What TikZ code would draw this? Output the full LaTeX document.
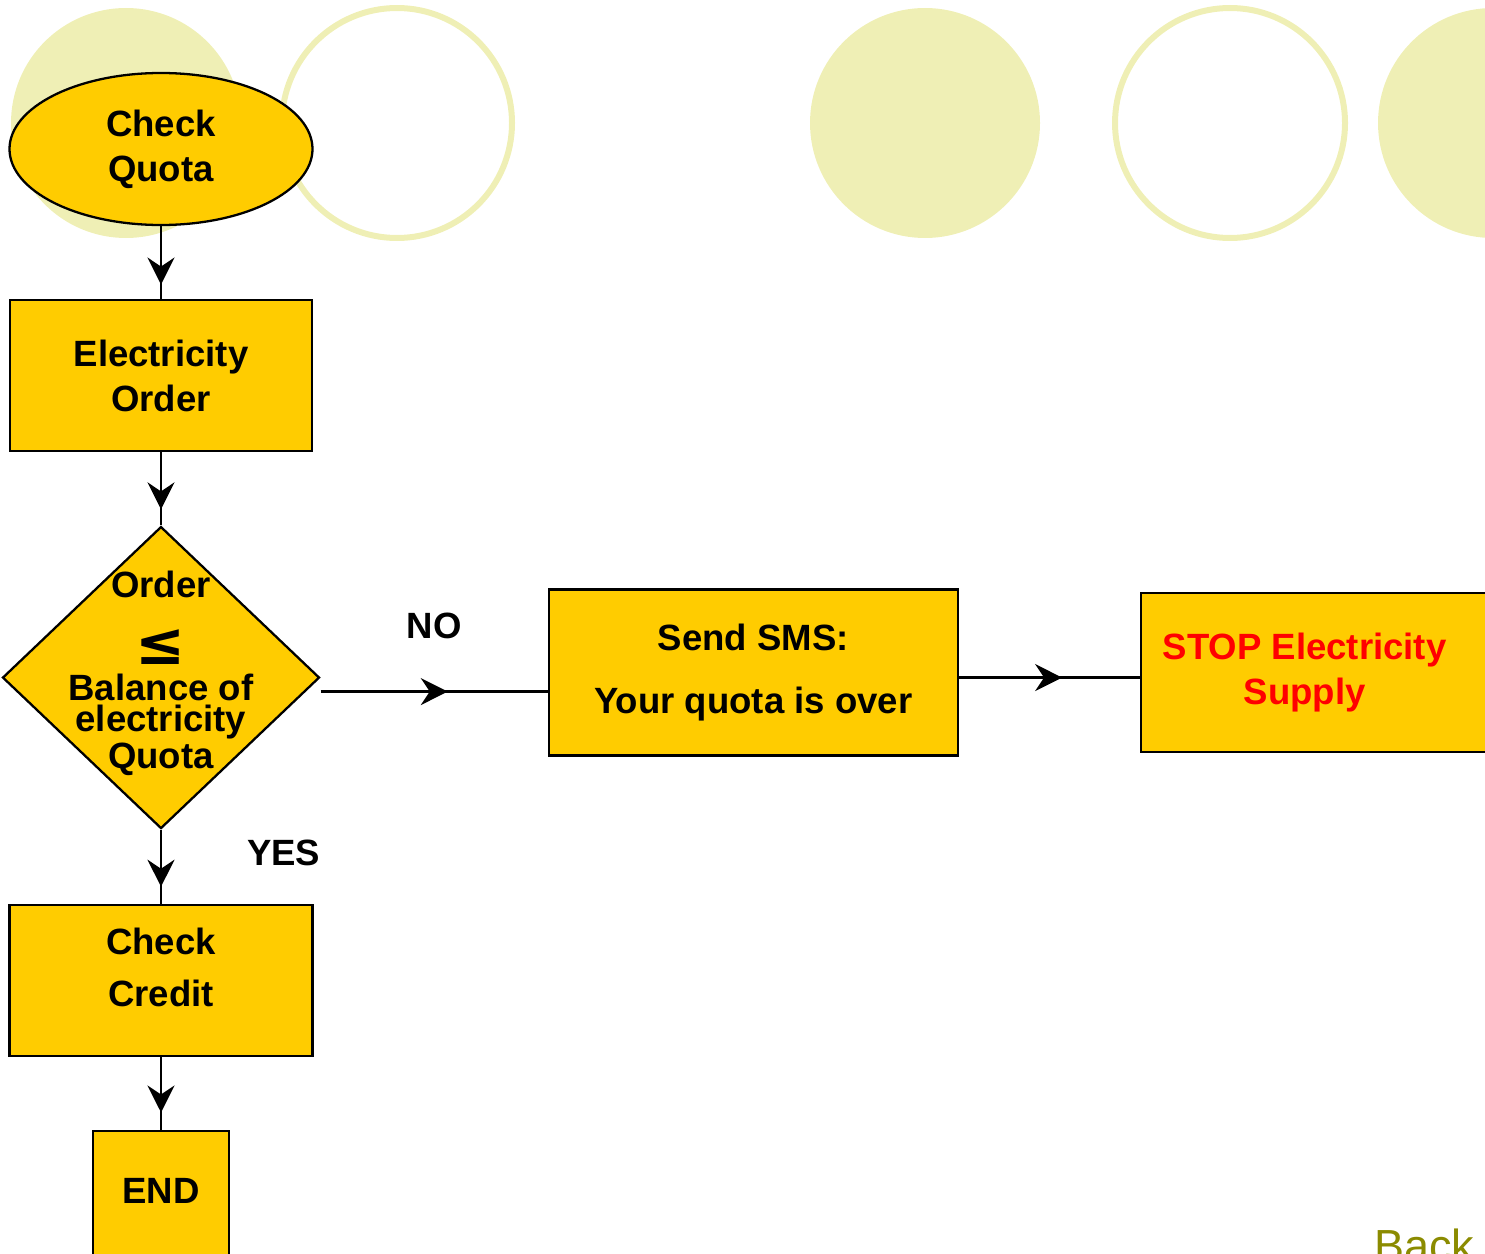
\documentclass[tikz,border=0pt]{standalone}
\usepackage{fontspec}
\setmainfont{Liberation Sans}
\newfontfamily\symbolfont{DejaVu Sans}
\usetikzlibrary{shapes.geometric,positioning,arrows.meta,decorations.markings}
\definecolor{boxyellow}{RGB}{255,204,0}
\definecolor{paleolive}{RGB}{239,239,181}
\definecolor{backolive}{RGB}{139,139,0}

\begin{document}
\begin{tikzpicture}[line width=0.65pt,
    flow box/.style={rectangle,draw,fill=boxyellow,inner sep=0pt,align=center,font=\bfseries\fontsize{10.4}{12.8}\selectfont},
    tip at/.style={postaction={decorate},decoration={markings,mark=at position #1 with {\arrow{Stealth[length=0.27cm,width=0.27cm,inset=0.09cm]}}}},
    answer/.style={inner sep=0pt,font=\bfseries\fontsize{10.4}{12.8}\selectfont}]
            \useasboundingbox (0,0) rectangle (14.85,-12.53);
            % background circles
            \fill[paleolive] (1.26,-1.23) circle (1.15);
            \draw[paleolive,line width=0.06cm] (3.97,-1.23) circle (1.15);
            \fill[paleolive] (9.25,-1.23) circle (1.15);
            \draw[paleolive,line width=0.06cm] (12.30,-1.23) circle (1.15);
            \fill[paleolive] (14.93,-1.23) circle (1.15);

            \node[flow box,ellipse,minimum width=3.03cm,minimum height=1.52cm] (quota) at (1.61,-1.49) {Check\\Quota};
            \node[flow box,minimum width=3.02cm,minimum height=1.51cm] (order) [below=0.73cm of quota] {Electricity\\Order};
            \node[flow box,diamond,minimum width=3.17cm,minimum height=3.02cm,
                label={[yshift=0.04cm,align=center,font=\bfseries\fontsize{10.4}{8.8}\selectfont]center:{Order\\[8pt]{\symbolfont\fontsize{17}{8.8}\selectfont ≤}\\[1.5pt]Balance of\\electricity\\Quota}}] (dec) [below=0.73cm of order] {};
            \node[flow box,minimum width=3.03cm,minimum height=1.51cm,
                label={[yshift=0.13cm,align=center,font=\bfseries\fontsize{10.4}{15}\selectfont]center:{Check\\Credit}}] (credit) [below=0.74cm of dec] {};
            \node[flow box,minimum width=1.36cm,minimum height=1.3cm,
                label={[yshift=0.05cm,font=\bfseries\fontsize{10.4}{12.8}\selectfont]center:END}] (end) [below=0.73cm of credit] {};
            \node[flow box,minimum width=4.09cm,minimum height=1.66cm,font=\bfseries\fontsize{10.4}{17.9}\selectfont] (sms) [right=2.27cm of dec,yshift=0.05cm] {Send SMS:\\Your quota is over};
            \node[flow box,minimum width=3.81cm,minimum height=1.59cm,
                label={[xshift=-0.27cm,align=center,text=red,font=\bfseries\fontsize{10.4}{12.8}\selectfont]center:{STOP Electricity\\Supply}}] (stop) [right=1.81cm of sms] {};

            \node[anchor=base west,inner sep=0pt,text=backolive,font=\fontsize{12.8}{15}\selectfont] (back) at (13.73,-12.61) {Back};

            \draw[tip at=0.8] (quota.south) -- (quota.south |- order.north);
            \draw[tip at=0.78] (order.south) -- (dec.north);
            \draw[tip at=0.77] (dec.south) -- (credit.north) node[answer,pos=0.31,right=0.85cm] {YES};
            \draw[tip at=0.76] (credit.south) -- (end.north);
            \draw[tip at=0.56] ([yshift=-0.14cm]dec.east) -- ([yshift=-0.14cm]dec.east -| sms.west) node[answer,midway,above=0.52cm] {NO};
            \draw[tip at=0.57] ([yshift=-0.05cm]sms.east) -- ([yshift=-0.05cm]sms.east -| stop.west);
        \end{tikzpicture}
\end{document}
